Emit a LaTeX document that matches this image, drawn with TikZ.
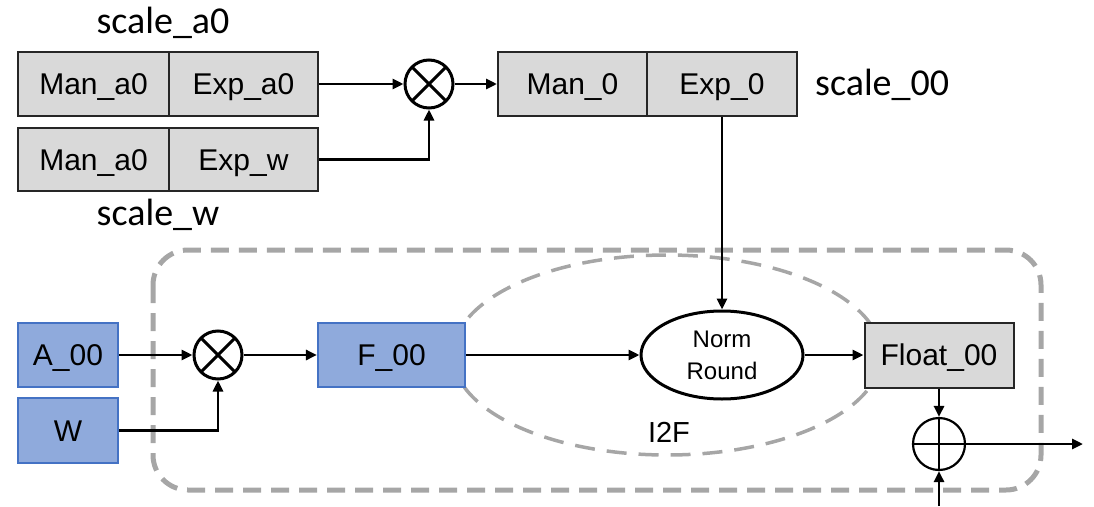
\documentclass[tikz,border=0pt]{standalone}
\usepackage{fontspec}
\setmainfont{Liberation Sans}
\newfontfamily\calfont{Carlito}
\usetikzlibrary{arrows.meta,shapes.geometric}
\definecolor{cellgray}{HTML}{D9D9D9}
\definecolor{cellblue}{HTML}{8FAADC}
\definecolor{edgeblue}{HTML}{4472C4}
\definecolor{dashgray}{HTML}{A6A6A6}
\begin{document}
\begin{tikzpicture}[x=1pt,y=-1pt,
  cell/.style={rectangle,draw=black!85,line width=2pt,fill=cellgray,inner sep=0pt,
               minimum height=64pt,text height=21.5pt,text depth=0pt,
               font=\fontsize{30}{36}\selectfont},
  operand/.style={cell,fill=cellblue,draw=edgeblue,line width=2.2pt,minimum width=100pt},
  tag/.style={inner sep=0pt,font=\calfont\fontsize{38}{44}\selectfont},
  mult/.style={circle,draw,fill=white,line width=3pt,minimum size=48pt,inner sep=0pt,
               path picture={\draw[line width=3pt]
                 (path picture bounding box.north west) -- (path picture bounding box.south east)
                 (path picture bounding box.north east) -- (path picture bounding box.south west);}},
  adder/.style={circle,draw,fill=white,line width=2.2pt,minimum size=52pt,inner sep=0pt,
               path picture={\draw[line width=2.2pt]
                 (path picture bounding box.north) -- (path picture bounding box.south)
                 (path picture bounding box.west) -- (path picture bounding box.east);}},
  ring/.style={ellipse,draw,fill=white,line width=3pt,minimum width=162pt,minimum height=88pt,
               inner sep=0pt,align=center,font=\fontsize{24}{32}\selectfont},
  region/.style={draw=dashgray,line width=5pt,dash pattern=on 18pt off 10pt,rounded corners=35pt},
  wire/.style={line width=2.8pt,-{Triangle[length=11pt,width=10pt]}}]
\path[use as bounding box] (0,0) rectangle (1094,506);
\draw[region] (153,250) rectangle (1041,490);
\node[ellipse,draw=dashgray,line width=3.5pt,dash pattern=on 20pt off 12pt,
      minimum width=428pt,minimum height=200pt] (i2f) at (667,355) {};
\node[inner sep=0pt,font=\fontsize{29}{34}\selectfont] (i2flabel) at (669,432) {I2F};
\node[cell,minimum width=151pt] (mana0) at (93.5,84) {Man\_a0};
\node[cell,minimum width=149pt] (expa0) at (243.5,84) {Exp\_a0};
\node[cell,minimum width=151pt,minimum height=63pt] (manw) at (93.5,159.5) {Man\_a0};
\node[cell,minimum width=149pt,minimum height=63pt] (expw) at (243.5,159.5) {Exp\_w};
\node[tag,anchor=base] (scalea0) at (163,33) {scale\_a0};
\node[tag,anchor=base] (scalew) at (158,225) {scale\_w};
\node[mult] (mula) at (429,84) {};
\node[cell,minimum width=149pt] (man0) at (572.5,84) {Man\_0};
\node[cell,minimum width=150pt] (exp0) at (722,84) {Exp\_0};
\node[tag,anchor=base west] (scale00) at (815,95) {scale\_00};
\node[operand] (a00) at (68,355) {A\_00};
\node[operand,minimum height=65pt] (w) at (68,430.5) {W};
\node[mult] (mulb) at (218,355) {};
\node[operand,minimum width=147pt] (f00) at (391.5,355) {F\_00};
\node[ring] (norm) at (722,355) {Norm\\Round};
\node[cell,minimum width=149pt,minimum height=65pt] (float) at (939,355) {Float\_00};
\node[adder] (add) at (939,444) {};
\coordinate (outp) at (1083,444);
\coordinate (inp) at (939,506);
\draw[wire] (expa0.east) -- (mula.west);
\draw[wire] (expw.east) -| (mula.south);
\draw[wire] (mula.east) -- (man0.west);
\draw[wire] (exp0.south) -- (norm.north);
\draw[wire] (a00.east) -- (mulb.west);
\draw[wire] (w.east) -| (mulb.south);
\draw[wire] (mulb.east) -- (f00.west);
\draw[wire] (f00.east) -- (norm.west);
\draw[wire] (norm.east) -- (float.west);
\draw[wire] (float.south) -- (add.north);
\draw[wire] (add.east) -- (outp);
\draw[wire] (inp) -- (add.south);
\end{tikzpicture}
\end{document}
